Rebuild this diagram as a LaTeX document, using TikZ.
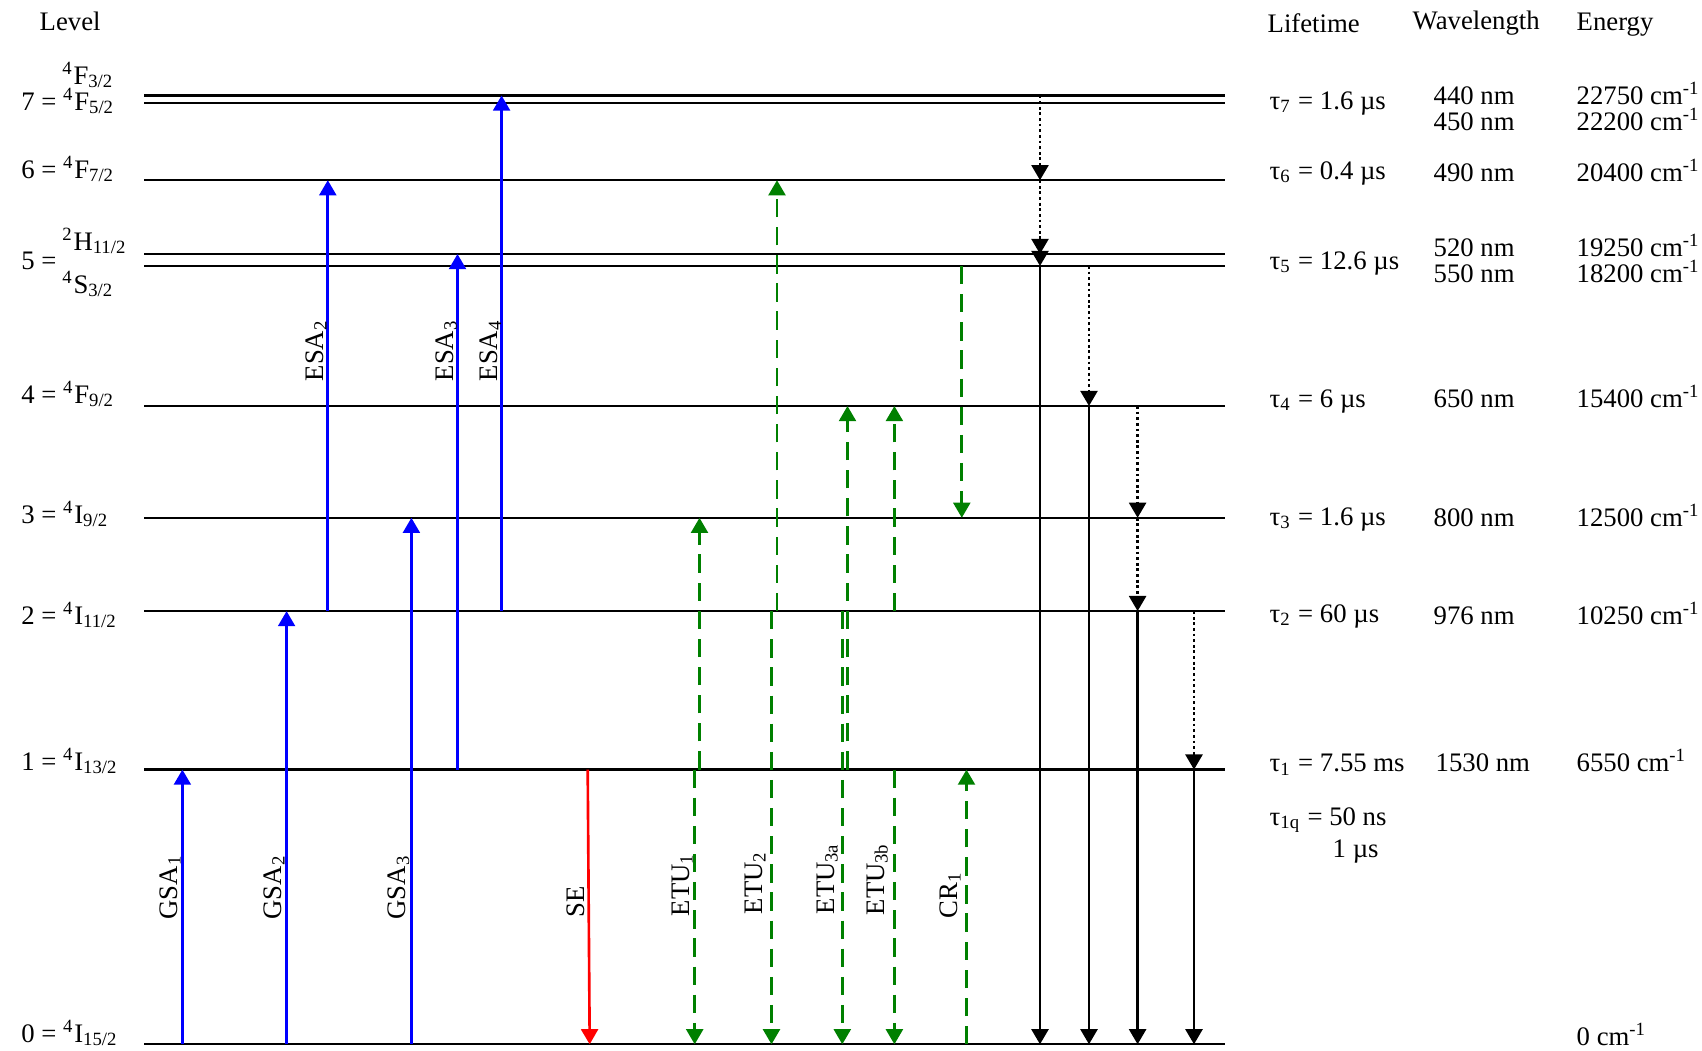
\documentclass[tikz,border=0pt]{standalone}
\usepackage{fontspec}
\setmainfont{Liberation Serif}
\usetikzlibrary{arrows.meta}

\newcommand\fs{\fontsize{7.6}{9}\selectfont}
\newcommand\term[3]{\textsuperscript{#1}#2\textsubscript{#3}}
\newcommand\wn{cm\textsuperscript{-1}}

\begin{document}
\begin{tikzpicture}[
    x=0.01cm, y=-0.01cm,
    font=\fs,
    txt/.style={anchor=base west, inner sep=0pt},
    lbl/.style={anchor=base west, inner sep=0pt, rotate=90},
    level/.style={line width=0.65pt},
    tip/.style={-{Triangle[width=4.8pt,length=4.3pt]}},
    absorb/.style={tip, blue, line width=0.75pt},
    emis/.style={tip, red, line width=0.75pt},
    etu/.style={tip, green!50!black, line width=0.75pt, dash pattern=on 5.2pt off 2.8pt},
    decay/.style={tip, line width=0.8pt},
    relax/.style={tip, line width=0.8pt, dash pattern=on 0.8pt off 0.8pt}
  ]
  \useasboundingbox (0,0) rectangle (1702,1051);

  % energy levels
  \foreach \n/\y in {0/1044.3, 1/769.6, 2/611.1, 3/517.8, 4/406, 5b/266, 5a/254, 6/180.2, 7b/103.1, 7a/95.5}
    \draw[level] (144,\y) coordinate (lv\n) -- (1225,\y);

  % arrow columns
  \foreach \c/\x in {g1/182.4, g2/286.6, g3/411.4, e2/327.8, e3/457.5, e4/501.6,
                     se0/587.7, se1/589.7, u1/699.5, d1/694.7, u2/777, d2/771.5,
                     u3a/847.5, d3a/842.3, u3b/894.4, c1u/966.5, c1d/961.8,
                     k1/1040, k2/1089, k3/1137.6, k4/1194}
    \coordinate (\c) at (\x,0);

  % headers
  \node[txt] (levH) at (39,30) {Level};
  \node[txt] (lifeH) at (1267,32) {Lifetime};
  \node[txt] (waveH) at (1412,29.5) {Wavelength};
  \node[txt] (enerH) at (1576,30) {Energy};

  % level names
  \node[txt] (n7t) at (61.7,84) {\term{4}{F}{3/2}};
  \node[txt] (n7) at (20.7,110) {7 = \term{4}{F}{5/2}};
  \node[txt] (n6) at (20.7,178.3) {6 = \term{4}{F}{7/2}};
  \node[txt] (n5) at (20.7,269) {5 =};
  \node[txt] (n5t) at (61.7,250) {\term{2}{H}{11/2}};
  \node[txt] (n5b) at (61.7,293.3) {\term{4}{S}{3/2}};
  \node[txt] (n4) at (20.7,403) {4 = \term{4}{F}{9/2}};
  \node[txt] (n3) at (20.7,523) {3 = \term{4}{I}{9/2}};
  \node[txt] (n2) at (20.7,624) {2 = \term{4}{I}{11/2}};
  \node[txt] (n1) at (20.7,770) {1 = \term{4}{I}{13/2}};
  \node[txt] (n0) at (20.7,1042) {0 = \term{4}{I}{15/2}};

  % lifetimes
  \node[txt] (t7) at (1269,109.3) {τ\textsubscript{7} = 1.6 µs};
  \node[txt] (t6) at (1269,179) {τ\textsubscript{6} = 0.4 µs};
  \node[txt] (t5) at (1269,269.3) {τ\textsubscript{5} = 12.6 µs};
  \node[txt] (t4) at (1269,407.3) {τ\textsubscript{4} = 6 µs};
  \node[txt] (t3) at (1269,525) {τ\textsubscript{3} = 1.6 µs};
  \node[txt] (t2) at (1269,622.3) {τ\textsubscript{2} = 60 µs};
  \node[txt] (t1) at (1269,771.7) {τ\textsubscript{1} = 7.55 ms};
  \node[txt] (t1q) at (1269,825) {τ\textsubscript{1q} = 50 ns};
  \node[txt] (t1qb) at (1332,857.3) {1 µs};

  % wavelengths
  \node[txt] (w7a) at (1433,104) {440 nm};
  \node[txt] (w7b) at (1433,130.7) {450 nm};
  \node[txt] (w6) at (1433,181) {490 nm};
  \node[txt] (w5a) at (1433,256) {520 nm};
  \node[txt] (w5b) at (1433,282.7) {550 nm};
  \node[txt] (w4) at (1433,407.3) {650 nm};
  \node[txt] (w3) at (1433,526) {800 nm};
  \node[txt] (w2) at (1433,624) {976 nm};
  \node[txt] (w1) at (1435,771.7) {1530 nm};

  % energies
  \node[txt] (E7a) at (1576,104) {22750 \wn};
  \node[txt] (E7b) at (1576,130.7) {22200 \wn};
  \node[txt] (E6) at (1576,181) {20400 \wn};
  \node[txt] (E5a) at (1576,256) {19250 \wn};
  \node[txt] (E5b) at (1576,282.7) {18200 \wn};
  \node[txt] (E4) at (1576,407.3) {15400 \wn};
  \node[txt] (E3) at (1576,526) {12500 \wn};
  \node[txt] (E2) at (1576,624) {10250 \wn};
  \node[txt] (E1) at (1576,771.7) {6550 \wn};
  \node[txt] (E0) at (1576,1045) {0 \wn};

  % ground and excited state absorption
  \draw[absorb] (g1 |- lv0) -- (g1 |- lv1);
  \draw[absorb] (g2 |- lv0) -- (g2 |- lv2);
  \draw[absorb] (g3 |- lv0) -- (g3 |- lv3);
  \draw[absorb] (e2 |- lv2) -- (e2 |- lv6);
  \draw[absorb] (e3 |- lv1) -- (e3 |- lv5a);
  \draw[absorb] (e4 |- lv2) -- (e4 |- lv7a);
  \node[lbl] (lG1) at (177,920) {GSA\textsubscript{1}};
  \node[lbl] (lG2) at (281,920) {GSA\textsubscript{2}};
  \node[lbl] (lG3) at (405.5,920) {GSA\textsubscript{3}};
  \node[lbl] (lE2) at (323,382) {ESA\textsubscript{2}};
  \node[lbl] (lE3) at (453,382) {ESA\textsubscript{3}};
  \node[lbl] (lE4) at (497.5,382) {ESA\textsubscript{4}};

  % stimulated emission
  \draw[emis] (se0 |- lv1) -- (se1 |- lv0);
  \node[lbl] (lSE) at (584.5,918) {SE};

  % energy transfer upconversion, cross relaxation
  \draw[etu] (u1 |- lv1) -- (u1 |- lv3);
  \draw[etu] (d1 |- lv1) -- (d1 |- lv0);
  \draw[etu] (u2 |- lv2) -- (u2 |- lv6);
  \draw[etu] (d2 |- lv2) -- (d2 |- lv0);
  \draw[etu] (u3a |- lv1) -- (u3a |- lv4);
  \draw[etu] (d3a |- lv2) -- (d3a |- lv0);
  \draw[etu] (u3b |- lv2) -- (u3b |- lv4);
  \draw[etu] (u3b |- lv1) -- (u3b |- lv0);
  \draw[etu] (c1u |- lv0) -- (c1u |- lv1);
  \draw[etu] (c1d |- lv5b) -- (c1d |- lv3);
  \node[lbl] (lU1) at (689,917) {ETU\textsubscript{1}};
  \node[lbl] (lU2) at (762,915) {ETU\textsubscript{2}};
  \node[lbl] (lU3a) at (834,915) {ETU\textsubscript{3a}};
  \node[lbl] (lU3b) at (884,916) {ETU\textsubscript{3b}};
  \node[lbl] (lC1) at (957,919) {CR\textsubscript{1}};

  % relaxation and decay
  \draw[relax] (k1 |- lv7a) -- (k1 |- lv6);
  \draw[relax] (k1 |- lv6) -- (k1 |- lv5a);
  \draw[relax] (k1 |- lv5a) -- (k1 |- lv5b);
  \draw[decay] (k1 |- lv5b) -- (k1 |- lv0);
  \draw[relax] (k2 |- lv5b) -- (k2 |- lv4);
  \draw[decay] (k2 |- lv4) -- (k2 |- lv0);
  \draw[relax] (k3 |- lv4) -- (k3 |- lv3);
  \draw[relax] (k3 |- lv3) -- (k3 |- lv2);
  \draw[decay] (k3 |- lv2) -- (k3 |- lv0);
  \draw[relax] (k4 |- lv2) -- (k4 |- lv1);
  \draw[decay] (k4 |- lv1) -- (k4 |- lv0);
\end{tikzpicture}
\end{document}
